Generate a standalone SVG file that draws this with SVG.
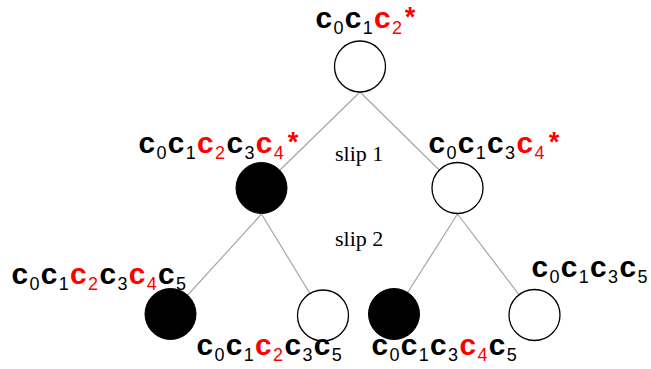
<svg xmlns="http://www.w3.org/2000/svg" width="651" height="369" viewBox="0 0 651 369">
<style>
.c{font-family:"Liberation Mono","Courier New",monospace;font-weight:bold;font-size:30px;fill:#000}
.d{font-family:"Liberation Sans",Arial,sans-serif;font-size:18px;fill:#000}
.r{fill:#ff0000}
.s{font-family:"Liberation Mono","Courier New",monospace;font-weight:bold;font-size:27px;fill:#ff0000}
.w{fill:#fff;stroke:#000;stroke-width:1.3}
.b{fill:#000;stroke:#000;stroke-width:1}
.e{stroke:#a6a6a6;stroke-width:1.2;fill:none}
.t{font-family:"Liberation Serif","Times New Roman",serif;font-size:22px;fill:#000}
</style>
<rect width="651" height="369" fill="#fff"/>
<g id="connectors">
<line class="e" x1="360" y1="92" x2="261.5" y2="188"/>
<line class="e" x1="360" y1="92" x2="457.5" y2="188"/>
<line class="e" x1="261.5" y1="214" x2="170.5" y2="314"/>
<line class="e" x1="261.5" y1="214" x2="323" y2="315"/>
<line class="e" x1="457.5" y1="214" x2="394" y2="314"/>
<line class="e" x1="457.5" y1="214" x2="534.5" y2="315"/>
</g>
<g id="n0">
<circle class="w" cx="360" cy="66.5" r="25.5"/>
<text><tspan class="c" x="315" y="28">c</tspan><tspan class="d" x="333.5" y="34">0</tspan><tspan class="c" x="344.3" y="28">c</tspan><tspan class="d" x="362.8" y="34">1</tspan><tspan class="c r" x="373.6" y="28">c</tspan><tspan class="d r" x="392.1" y="34">2</tspan><tspan class="s" x="402" y="27">*</tspan></text>
</g>
<g id="n1">
<circle class="b" cx="261.5" cy="188" r="25.5"/>
<text><tspan class="c" x="138" y="153">c</tspan><tspan class="d" x="156.5" y="159">0</tspan><tspan class="c" x="167.3" y="153">c</tspan><tspan class="d" x="185.8" y="159">1</tspan><tspan class="c r" x="196.6" y="153">c</tspan><tspan class="d r" x="215.1" y="159">2</tspan><tspan class="c" x="225.9" y="153">c</tspan><tspan class="d" x="244.4" y="159">3</tspan><tspan class="c r" x="255.2" y="153">c</tspan><tspan class="d r" x="273.7" y="159">4</tspan><tspan class="s" x="285" y="152">*</tspan></text>
</g>
<g id="n2">
<circle class="w" cx="457.5" cy="188" r="25.5"/>
<text><tspan class="c" x="428" y="153">c</tspan><tspan class="d" x="446.5" y="159">0</tspan><tspan class="c" x="457.3" y="153">c</tspan><tspan class="d" x="475.8" y="159">1</tspan><tspan class="c" x="486.6" y="153">c</tspan><tspan class="d" x="505.1" y="159">3</tspan><tspan class="c r" x="515.9" y="153">c</tspan><tspan class="d r" x="534.4" y="159">4</tspan><tspan class="s" x="546" y="152">*</tspan></text>
</g>
<g id="n3">
<circle class="b" cx="170.5" cy="314" r="25.5"/>
<text><tspan class="c" x="11" y="284">c</tspan><tspan class="d" x="29.5" y="290">0</tspan><tspan class="c" x="40.3" y="284">c</tspan><tspan class="d" x="58.8" y="290">1</tspan><tspan class="c r" x="69.6" y="284">c</tspan><tspan class="d r" x="88.1" y="290">2</tspan><tspan class="c" x="98.9" y="284">c</tspan><tspan class="d" x="117.4" y="290">3</tspan><tspan class="c r" x="128.2" y="284">c</tspan><tspan class="d r" x="146.7" y="290">4</tspan><tspan class="c" x="157.5" y="284">c</tspan><tspan class="d" x="176" y="290">5</tspan></text>
</g>
<g id="n4">
<circle class="w" cx="323" cy="315.5" r="25.5"/>
<text><tspan class="c" x="196" y="355">c</tspan><tspan class="d" x="214.5" y="361">0</tspan><tspan class="c" x="225.3" y="355">c</tspan><tspan class="d" x="243.8" y="361">1</tspan><tspan class="c r" x="254.6" y="355">c</tspan><tspan class="d r" x="273.1" y="361">2</tspan><tspan class="c" x="283.9" y="355">c</tspan><tspan class="d" x="302.4" y="361">3</tspan><tspan class="c" x="313.2" y="355">c</tspan><tspan class="d" x="331.7" y="361">5</tspan></text>
</g>
<g id="n5">
<circle class="b" cx="394" cy="314" r="25.5"/>
<text><tspan class="c" x="371" y="355">c</tspan><tspan class="d" x="389.5" y="361">0</tspan><tspan class="c" x="400.3" y="355">c</tspan><tspan class="d" x="418.8" y="361">1</tspan><tspan class="c" x="429.6" y="355">c</tspan><tspan class="d" x="448.1" y="361">3</tspan><tspan class="c r" x="458.9" y="355">c</tspan><tspan class="d r" x="477.4" y="361">4</tspan><tspan class="c" x="488.2" y="355">c</tspan><tspan class="d" x="506.7" y="361">5</tspan></text>
</g>
<g id="n6">
<circle class="w" cx="534.5" cy="315" r="25.5"/>
<text><tspan class="c" x="531" y="277">c</tspan><tspan class="d" x="549.5" y="283">0</tspan><tspan class="c" x="560.3" y="277">c</tspan><tspan class="d" x="578.8" y="283">1</tspan><tspan class="c" x="589.6" y="277">c</tspan><tspan class="d" x="608.1" y="283">3</tspan><tspan class="c" x="618.9" y="277">c</tspan><tspan class="d" x="637.4" y="283">5</tspan></text>
</g>
<text class="t" x="335" y="161">slip 1</text>
<text class="t" x="335" y="246">slip 2</text>
</svg>
